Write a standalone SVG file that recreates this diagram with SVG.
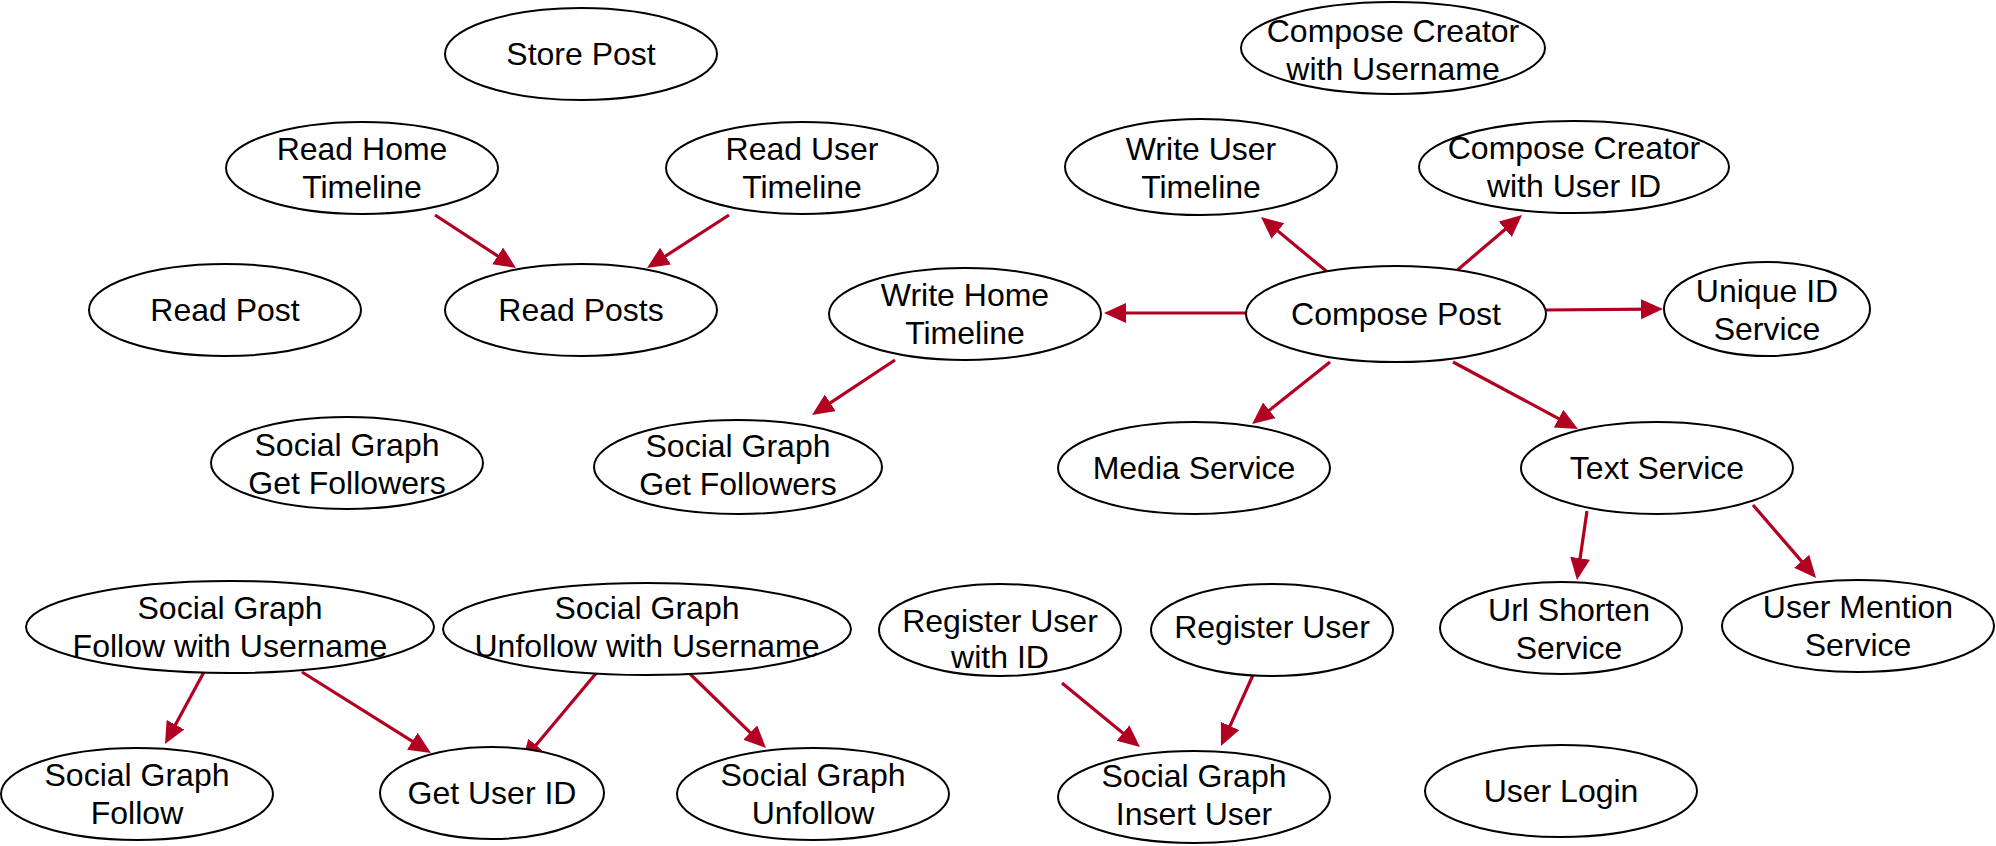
<svg xmlns="http://www.w3.org/2000/svg" width="1996" height="846" viewBox="0 0 1996 846">
  <style>
    .node ellipse { fill: #ffffff; stroke: #000000; stroke-width: 2; }
    .node text { font-family: "Liberation Sans", Arial, Helvetica, sans-serif; font-size: 32px; fill: #000000; text-anchor: middle; }
    .edge line { stroke: #B20023; stroke-width: 3.2; fill: none; marker-end: url(#arrow); }
  </style>
  <defs>
    <marker id="arrow" markerUnits="userSpaceOnUse" markerWidth="24" markerHeight="22" refX="10" refY="10" orient="auto">
      <path d="M0,0 L22,10 L0,20 Z" fill="#B20023"/>
    </marker>
  </defs>

  <rect width="1996" height="846" fill="#ffffff"/>

  <!-- connectors -->
  <g id="edges" class="edge">
    <line x1="435" y1="215" x2="506" y2="261.4"/>
    <line x1="729" y1="215" x2="657.1" y2="261.5"/>
    <line x1="1331" y1="275" x2="1270.2" y2="224.7"/>
    <line x1="1448" y1="278" x2="1512.9" y2="222.8"/>
    <line x1="1246" y1="313" x2="1116" y2="313"/>
    <line x1="1545" y1="310" x2="1651" y2="309.1"/>
    <line x1="895" y1="360" x2="822" y2="408.4"/>
    <line x1="1330" y1="362" x2="1261.5" y2="416.6"/>
    <line x1="1453" y1="362" x2="1567.4" y2="423.3"/>
    <line x1="1587" y1="511" x2="1578.7" y2="568.1"/>
    <line x1="1753" y1="505" x2="1808.2" y2="568.9"/>
    <line x1="204" y1="672" x2="170.7" y2="733.5"/>
    <line x1="302" y1="672" x2="420.8" y2="746.6"/>
    <line x1="598" y1="671" x2="529.6" y2="752.8"/>
    <line x1="687" y1="671" x2="757.4" y2="739.6"/>
    <line x1="1062" y1="683" x2="1130.7" y2="739.4"/>
    <line x1="1253" y1="675" x2="1225.9" y2="735.1"/>
  </g>

  <!-- nodes -->
  <g id="store-post" class="node">
    <ellipse cx="581" cy="54" rx="136" ry="46"/>
    <text x="581" y="65">Store Post</text>
  </g>
  <g id="compose-creator-username" class="node">
    <ellipse cx="1393" cy="48" rx="152" ry="46"/>
    <text x="1393" y="42">Compose Creator</text>
    <text x="1393" y="80">with Username</text>
  </g>
  <g id="read-home-timeline" class="node">
    <ellipse cx="362" cy="168" rx="136" ry="46"/>
    <text x="362" y="160">Read Home</text>
    <text x="362" y="198">Timeline</text>
  </g>
  <g id="read-user-timeline" class="node">
    <ellipse cx="802" cy="168" rx="136" ry="46"/>
    <text x="802" y="160">Read User</text>
    <text x="802" y="198">Timeline</text>
  </g>
  <g id="write-user-timeline" class="node">
    <ellipse cx="1201" cy="167" rx="136" ry="48"/>
    <text x="1201" y="160">Write User</text>
    <text x="1201" y="198">Timeline</text>
  </g>
  <g id="compose-creator-userid" class="node">
    <ellipse cx="1574" cy="167" rx="155" ry="46"/>
    <text x="1574" y="159">Compose Creator</text>
    <text x="1574" y="197">with User ID</text>
  </g>
  <g id="read-post" class="node">
    <ellipse cx="225" cy="310" rx="136" ry="46"/>
    <text x="225" y="321">Read Post</text>
  </g>
  <g id="read-posts" class="node">
    <ellipse cx="581" cy="310" rx="136" ry="46"/>
    <text x="581" y="321">Read Posts</text>
  </g>
  <g id="write-home-timeline" class="node">
    <ellipse cx="965" cy="314" rx="136" ry="46"/>
    <text x="965" y="306">Write Home</text>
    <text x="965" y="344">Timeline</text>
  </g>
  <g id="compose-post" class="node">
    <ellipse cx="1396" cy="314" rx="150" ry="48"/>
    <text x="1396" y="325">Compose Post</text>
  </g>
  <g id="unique-id-service" class="node">
    <ellipse cx="1767" cy="309" rx="103" ry="47"/>
    <text x="1767" y="302">Unique ID</text>
    <text x="1767" y="340">Service</text>
  </g>
  <g id="sg-get-followers-a" class="node">
    <ellipse cx="347" cy="463" rx="136" ry="46"/>
    <text x="347" y="456">Social Graph</text>
    <text x="347" y="494">Get Followers</text>
  </g>
  <g id="sg-get-followers-b" class="node">
    <ellipse cx="738" cy="467" rx="144" ry="47"/>
    <text x="738" y="457">Social Graph</text>
    <text x="738" y="495">Get Followers</text>
  </g>
  <g id="media-service" class="node">
    <ellipse cx="1194" cy="468" rx="136" ry="46"/>
    <text x="1194" y="479">Media Service</text>
  </g>
  <g id="text-service" class="node">
    <ellipse cx="1657" cy="468" rx="136" ry="46"/>
    <text x="1657" y="479">Text Service</text>
  </g>
  <g id="sg-follow-username" class="node">
    <ellipse cx="230" cy="627" rx="204" ry="46"/>
    <text x="230" y="619">Social Graph</text>
    <text x="230" y="657">Follow with Username</text>
  </g>
  <g id="sg-unfollow-username" class="node">
    <ellipse cx="647" cy="629" rx="204" ry="46"/>
    <text x="647" y="619">Social Graph</text>
    <text x="647" y="657">Unfollow with Username</text>
  </g>
  <g id="register-user-id" class="node">
    <ellipse cx="1000" cy="630" rx="121" ry="46"/>
    <text x="1000" y="632">Register User</text>
    <text x="1000" y="668">with ID</text>
  </g>
  <g id="register-user" class="node">
    <ellipse cx="1272" cy="630" rx="121" ry="46"/>
    <text x="1272" y="638">Register User</text>
  </g>
  <g id="url-shorten-service" class="node">
    <ellipse cx="1561" cy="628" rx="121" ry="46"/>
    <text x="1569" y="621">Url Shorten</text>
    <text x="1569" y="659">Service</text>
  </g>
  <g id="user-mention-service" class="node">
    <ellipse cx="1858" cy="626" rx="136" ry="46"/>
    <text x="1858" y="618">User Mention</text>
    <text x="1858" y="656">Service</text>
  </g>
  <g id="sg-follow" class="node">
    <ellipse cx="137" cy="794" rx="136" ry="46"/>
    <text x="137" y="786">Social Graph</text>
    <text x="137" y="824">Follow</text>
  </g>
  <g id="get-user-id" class="node">
    <ellipse cx="492" cy="793" rx="112" ry="46"/>
    <text x="492" y="804">Get User ID</text>
  </g>
  <g id="sg-unfollow" class="node">
    <ellipse cx="813" cy="794" rx="136" ry="46"/>
    <text x="813" y="786">Social Graph</text>
    <text x="813" y="824">Unfollow</text>
  </g>
  <g id="sg-insert-user" class="node">
    <ellipse cx="1194" cy="797" rx="136" ry="46"/>
    <text x="1194" y="787">Social Graph</text>
    <text x="1194" y="825">Insert User</text>
  </g>
  <g id="user-login" class="node">
    <ellipse cx="1561" cy="791" rx="136" ry="46"/>
    <text x="1561" y="802">User Login</text>
  </g>
</svg>
